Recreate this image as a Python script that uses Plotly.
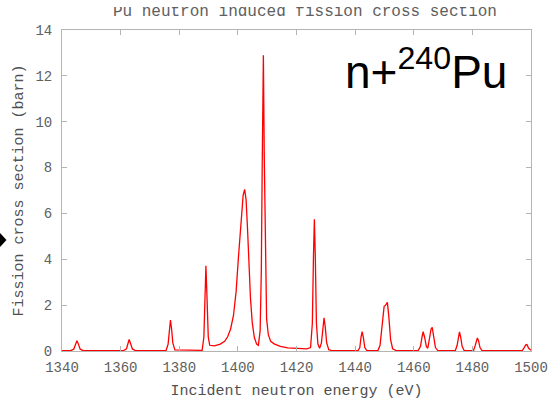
import plotly.graph_objects as go

# Incident neutron energy (eV) and fission cross section (barn) for n + Pu-240
energy = [
    1340.0, 1343.0, 1344.0, 1344.6, 1345.1, 1345.6, 1346.2, 1347.2,
    1361.0, 1362.0, 1362.5, 1362.9, 1363.4, 1364.0, 1365.0,
    1375.5, 1376.2, 1376.6, 1377.0, 1377.4, 1377.8, 1378.5,
    1387.8, 1388.4, 1388.8, 1389.1, 1389.4, 1389.9, 1390.4,
    1392.0, 1394.0, 1395.5, 1396.5, 1397.5, 1398.5, 1399.4, 1400.2,
    1401.0, 1401.8, 1402.3, 1402.8, 1403.3, 1403.8, 1404.3, 1404.9,
    1405.6, 1406.4, 1407.0, 1407.6, 1408.0, 1408.3, 1408.7, 1409.0,
    1409.4, 1409.8, 1410.4, 1411.2, 1412.5, 1414.5, 1417.0, 1420.0,
    1423.5, 1424.8, 1425.4, 1425.8, 1426.1, 1426.4, 1426.8, 1427.3,
    1427.9, 1428.5, 1429.0, 1429.4, 1429.8, 1430.3, 1431.0, 1432.0,
    1441.0, 1441.6, 1442.0, 1442.4, 1442.8, 1443.3, 1444.0,
    1447.8, 1448.5, 1449.2, 1449.9, 1450.4, 1451.0, 1451.5, 1452.1,
    1452.8, 1454.0,
    1461.5, 1462.3, 1462.8, 1463.2, 1463.7, 1464.3, 1464.8, 1465.4,
    1465.9, 1466.3, 1466.8, 1467.4, 1468.2,
    1474.2, 1474.8, 1475.2, 1475.6, 1476.0, 1476.5, 1477.2,
    1480.4, 1481.0, 1481.4, 1481.7, 1482.1, 1482.6, 1483.3,
    1497.0, 1497.7, 1498.2, 1498.6, 1499.2, 1500.0,
]
sigma_f = [
    0.02, 0.02, 0.08, 0.32, 0.45, 0.30, 0.08, 0.02,
    0.02, 0.10, 0.33, 0.50, 0.33, 0.09, 0.02,
    0.02, 0.30, 0.95, 1.35, 0.95, 0.35, 0.05,
    0.03, 0.60, 2.60, 3.72, 2.60, 0.60, 0.25,
    0.22, 0.30, 0.42, 0.62, 0.95, 1.55, 2.60, 4.10,
    5.70, 6.80, 7.05, 6.60, 5.30, 3.70, 2.30, 1.25,
    0.60, 0.30, 0.25, 0.90, 3.50, 8.00, 12.90, 8.50,
    3.50, 1.40, 0.70, 0.42, 0.30, 0.20, 0.14, 0.11,
    0.09, 0.15, 1.20, 4.20, 5.75, 4.20, 1.20, 0.30,
    0.12, 0.35, 1.05, 1.45, 1.05, 0.35, 0.06, 0.02,
    0.02, 0.15, 0.60, 0.84, 0.60, 0.15, 0.02,
    0.03, 0.25, 1.10, 1.95, 2.00, 2.12, 1.50, 0.50,
    0.10, 0.02,
    0.02, 0.20, 0.60, 0.84, 0.60, 0.20, 0.12, 0.55,
    0.95, 1.03, 0.60, 0.15, 0.02,
    0.02, 0.25, 0.62, 0.83, 0.62, 0.20, 0.02,
    0.02, 0.25, 0.50, 0.57, 0.45, 0.15, 0.02,
    0.02, 0.15, 0.27, 0.28, 0.12, 0.03,
]

x_ticks = [1340, 1360, 1380, 1400, 1420, 1440, 1460, 1480, 1500]
y_ticks = [0, 2, 4, 6, 8, 10, 12, 14]

title_text = "Pu neutron induced fission cross section"

MONO = "Liberation Mono"
FRAME = "#b4b4b4"

# page geometry in pixels: plot frame spans x 62..531, y 30..351
TOP, BOTTOM = 7, 351
H = BOTTOM - TOP


def py(p):
    """pixel row -> paper y"""
    return (BOTTOM - p) / H


def px(p):
    """pixel column -> paper x"""
    return (p - 62) / 469


fig = go.Figure()
fig.add_trace(go.Scatter(
    x=energy, y=sigma_f, mode="lines",
    line=dict(color="#ff0000", width=1.3),
    showlegend=False, hoverinfo="x+y",
))

# chart title sits in a thin strip whose top edge clips it
fig.add_trace(go.Scatter(
    x=[0.518], y=[0.75], mode="text", text=[title_text],
    textposition="middle center", cliponaxis=True,
    textfont=dict(family=MONO, size=16, color="#606060"),
    xaxis="x2", yaxis="y2", showlegend=False, hoverinfo="skip",
))

axis_common = dict(
    showline=True, linecolor=FRAME, linewidth=1, mirror="ticks",
    ticks="inside", ticklen=5, tickcolor=FRAME, tickwidth=1,
    showgrid=False, zeroline=False, automargin=False,
    tickfont=dict(family=MONO, size=14, color="#606060"),
)

fig.update_layout(
    width=560, height=400,
    margin=dict(l=62, r=29, t=TOP, b=400 - BOTTOM),
    paper_bgcolor="white", plot_bgcolor="white",
    xaxis=dict(
        range=[1340, 1500], tickvals=x_ticks, ticklabelstandoff=3,
        title=dict(text="Incident neutron energy (eV)", standoff=12,
                   font=dict(family=MONO, size=15, color="#505050")),
        **axis_common,
    ),
    yaxis=dict(
        range=[0, 14], tickvals=y_ticks, ticklabelstandoff=6,
        domain=[0, py(30)],
        title=dict(text="Fission cross section (barn)", standoff=8,
                   font=dict(family=MONO, size=15, color="#505050")),
        **axis_common,
    ),
    xaxis2=dict(range=[0, 1], domain=[0, 1], anchor="y2", visible=False,
                fixedrange=True),
    yaxis2=dict(range=[0, 1], domain=[py(27), 1.0], anchor="x2", visible=False,
                fixedrange=True),
    annotations=[
        dict(text="n+<sup>240</sup>Pu",
             xref="paper", yref="paper", x=px(343), y=py(69),
             xanchor="left", yanchor="middle", showarrow=False,
             font=dict(family="Liberation Sans", size=46, color="black")),
    ],
    shapes=[
        dict(type="path", xref="paper", yref="paper",
             path=(f"M {px(-6.5):.4f} {py(240):.4f} L {px(0):.4f} {py(233):.4f} "
                   f"L {px(6.5):.4f} {py(240):.4f} L {px(0):.4f} {py(247):.4f} Z"),
             fillcolor="black", line=dict(width=0)),
    ],
)

fig.write_html("out.html")
